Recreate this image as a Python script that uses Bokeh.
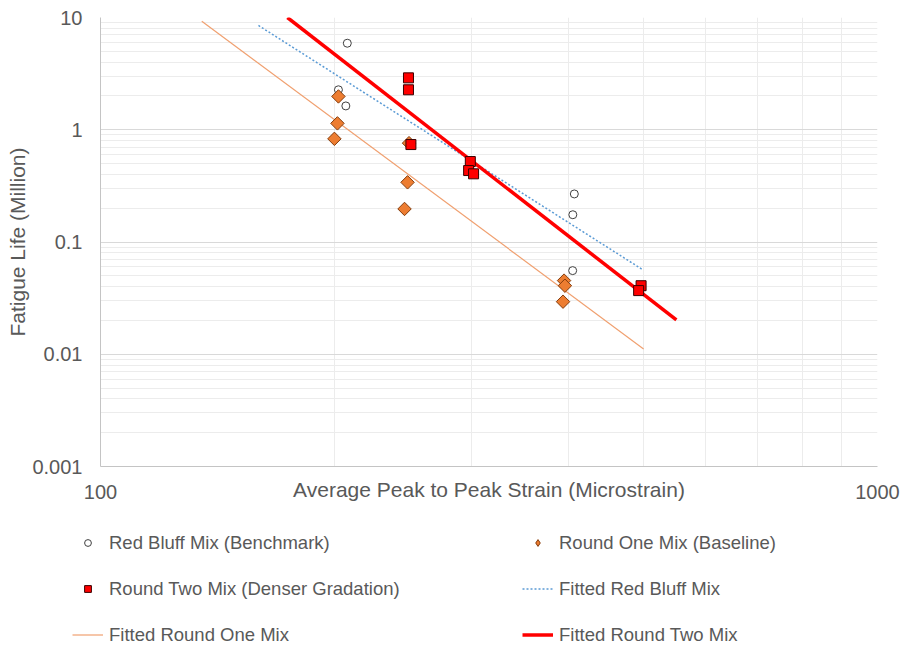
import math
from bokeh.plotting import figure
from bokeh.layouts import column, row
from bokeh.models import FixedTicker, CustomJSTickFormatter, Legend, LegendItem
from bokeh.embed import file_html
from bokeh.resources import INLINE

# ---------------- data ----------------
red_bluff_strain = [207.8, 202.4, 206.9, 249.8, 407.2, 405.4, 405.2]
red_bluff_life = [5.90, 2.27, 1.63, 0.758, 0.268, 0.175, 0.0556]

round_one_strain = [202.4, 201.8, 200.0, 249.5, 248.4, 246.2, 395.0, 396.0, 393.8]
round_one_life = [1.98, 1.14, 0.830, 0.76, 0.340, 0.197, 0.0453, 0.0408, 0.0294]

round_two_strain = [249.1, 249.1, 250.9, 299.2, 297.7, 302.1, 496.3, 492.7]
round_two_life = [2.90, 2.27, 0.738, 0.521, 0.433, 0.405, 0.0408, 0.0369]

fit_red_bluff_strain = [159.7, 499.2]
fit_red_bluff_life = [8.49, 0.0564]
fit_round_one_strain = [135.0, 500.0]
fit_round_one_life = [9.27, 0.01114]
fit_round_two_strain = [174.0, 551.0]
fit_round_two_life = [10.0, 0.0202]

x_major_ticks = [100, 1000]
x_minor_ticks = [200, 300, 400, 500, 600, 700, 800, 900]
y_major_ticks = [0.001, 0.01, 0.1, 1, 10]
y_minor_ticks = [0.002, 0.003, 0.004, 0.005, 0.006, 0.007, 0.008, 0.009,
                 0.02, 0.03, 0.04, 0.05, 0.06, 0.07, 0.08, 0.09,
                 0.2, 0.3, 0.4, 0.5, 0.6, 0.7, 0.8, 0.9,
                 2, 3, 4, 5, 6, 7, 8, 9]

x_title = "Average Peak to Peak Strain (Microstrain)"
y_title = "Fatigue Life (Million)"
labels = ["Red Bluff Mix (Benchmark)", "Round One Mix (Baseline)",
          "Round Two Mix (Denser Gradation)", "Fitted Red Bluff Mix",
          "Fitted Round One Mix", "Fitted Round Two Mix"]

FONT = "Liberation Sans"
TXT = "#595959"

# styles
S_RB = dict(marker="circle", size=8, fill_color="white", line_color="#404040", line_width=1)
S_R1 = dict(marker="square", angle=math.pi / 4, size=9.5, fill_color="#ed7d31",
            line_color="#843c0c", line_width=1)
S_R1_LEG = dict(marker="diamond", size=12, fill_color="#ed7d31",
                line_color="#843c0c", line_width=1)
S_R2 = dict(marker="square", size=10, fill_color="#ff0000", line_color="#3a0000", line_width=1)
L_RB = dict(line_color="#5b9bd5", line_width=1.5, line_dash="2 2")
L_R1 = dict(line_color="#f0a070", line_width=1.2)
L_R2 = dict(line_color="#ff0000", line_width=3.5)

W = 904
H1 = 520
H2 = 649 - H1

p = figure(width=W, height=H1, x_axis_type="log", y_axis_type="log",
           x_range=(100, 1000), y_range=(0.001, 10),
           output_backend="svg", toolbar_location=None,
           min_border_left=100, min_border_right=27, min_border_top=17,
           min_border_bottom=H1 - 466)
p.outline_line_color = None
p.background_fill_color = "white"
p.border_fill_color = "white"

xt = FixedTicker(ticks=x_major_ticks, minor_ticks=x_minor_ticks)
yt = FixedTicker(ticks=y_major_ticks, minor_ticks=y_minor_ticks)
fmt = CustomJSTickFormatter(code="return String(parseFloat(tick.toPrecision(6)));")

for ax, tk in ((p.xaxis[0], xt), (p.yaxis[0], yt)):
    ax.ticker = tk
    ax.formatter = fmt
    ax.major_tick_in = 0
    ax.major_tick_out = 0
    ax.minor_tick_in = 0
    ax.minor_tick_out = 0
    ax.axis_line_color = "#c4c4c4"
    ax.major_label_text_font = FONT
    ax.major_label_text_font_size = "20px"
    ax.major_label_text_color = TXT
    ax.axis_label_text_font = FONT
    ax.axis_label_text_font_size = "21px"
    ax.axis_label_text_font_style = "normal"
    ax.axis_label_text_color = TXT

p.xaxis.axis_label = x_title
p.yaxis.axis_label = y_title
p.xaxis.major_label_standoff = 18
p.xaxis.axis_label_standoff = -24
p.yaxis.major_label_standoff = 18
p.yaxis.axis_label_standoff = 0

p.xgrid.ticker = xt
p.ygrid.ticker = yt
for g in (p.xgrid[0], p.ygrid[0]):
    g.grid_line_color = "#d9d9d9"
    g.grid_line_width = 1
    g.minor_grid_line_color = "#ececec"
    g.minor_grid_line_width = 1

# fitted lines
p.line(fit_red_bluff_strain, fit_red_bluff_life, **L_RB)
p.line(fit_round_one_strain, fit_round_one_life, **L_R1)
p.line(fit_round_two_strain, fit_round_two_life, **L_R2)

# markers
p.scatter(red_bluff_strain, red_bluff_life, **S_RB)
p.scatter(round_one_strain, round_one_life, **S_R1)
p.scatter(round_two_strain, round_two_life, **S_R2)

# ---------------- legend panel ----------------
q = figure(width=W, height=H2, x_range=(0, 1), y_range=(0, 1),
           output_backend="svg", toolbar_location=None,
           x_axis_location=None, y_axis_location=None,
           min_border=0, min_border_left=0, min_border_right=0,
           min_border_top=0, min_border_bottom=0)
q.outline_line_color = None
q.xgrid.visible = False
q.ygrid.visible = False
q.background_fill_color = "white"
q.border_fill_color = "white"

# legend-only sample glyphs, placed outside the visible range
hx = [-5, -4]
hy = [-5, -4]
g1 = q.scatter(hx, hy, **S_RB)
g2 = q.scatter(hx, hy, **S_R1_LEG)
g3 = q.scatter(hx, hy, **S_R2)
g4 = q.line(hx, hy, **L_RB)
g5 = q.line(hx, hy, **L_R1)
g6 = q.line(hx, hy, **L_R2)

items = [LegendItem(label=labels[0], renderers=[g1]),
         LegendItem(label=labels[1], renderers=[g2]),
         LegendItem(label=labels[2], renderers=[g3]),
         LegendItem(label=labels[3], renderers=[g4]),
         LegendItem(label=labels[4], renderers=[g5]),
         LegendItem(label=labels[5], renderers=[g6])]

legend = Legend(items=items, location=(72, -4), ncols=2, orientation="horizontal",
                glyph_width=31, glyph_height=17, label_height=37, label_width=404,
                label_standoff=6, spacing=9, padding=0, margin=0,
                border_line_alpha=0, background_fill_alpha=0,
                label_text_font=FONT, label_text_font_size="18.5px",
                label_text_color=TXT)
q.add_layout(legend, "center")

layout = column(p, row(q, spacing=0), spacing=0)
open("out.html", "w").write(file_html(layout, INLINE))
